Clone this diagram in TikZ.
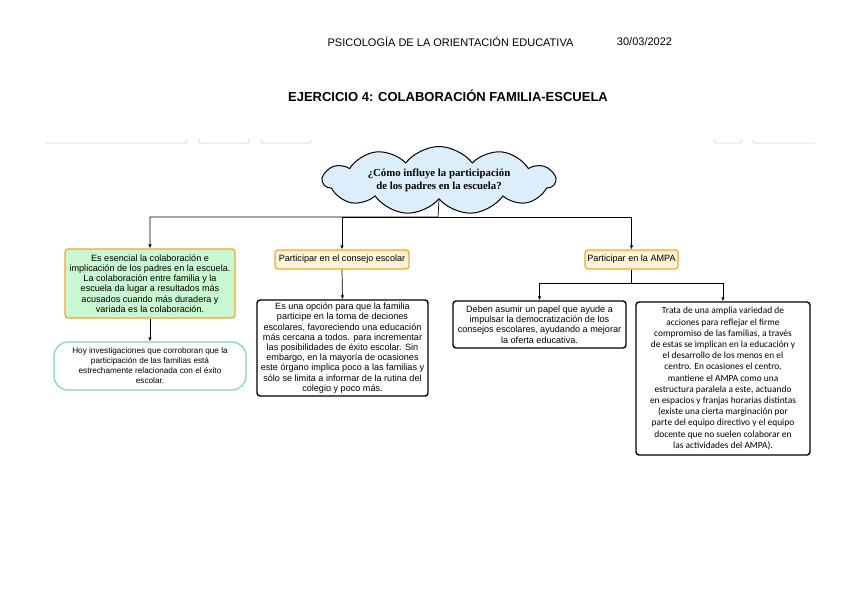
\documentclass[tikz,border=0pt]{standalone}
\usepackage{fontspec}
\setmainfont{Liberation Sans}
\newfontfamily\cloudfont{Liberation Serif}
\newfontfamily\calfont{Carlito}
\usetikzlibrary{arrows.meta,positioning,shapes.symbols,calc}
\tikzset {
    >={Latex[length=4pt,width=3.5pt]},
    conn/.style={draw, line width=0.7pt, ->},
}
\definecolor{cloudfill}{HTML}{DCEEF9}
\definecolor{mintfill}{HTML}{C8F7D2}
\definecolor{orangeline}{HTML}{F5A623}
\definecolor{creamfill}{HTML}{FFF4D9}
\definecolor{pillline}{HTML}{7ED9A0}
\definecolor{faintline}{HTML}{D4D4D4}
\providecommand{\boxtxt}{\fontsize{9.1}{10.2}\selectfont}

\begin{document}
\begin{tikzpicture}[
        x=1pt, y=-1pt,
        every node/.style={inner sep=2pt},
        qcloud/.style={cloud, draw, line width=1pt, fill=cloudfill,
            cloud puffs=11, cloud puff arc=105, aspect=3.6,
            minimum width=232pt, minimum height=68pt, inner sep=0pt},
        qtext/.style={align=center,
            font=\cloudfont\bfseries\fontsize{10.8}{13}\selectfont},
        gbox/.style={draw=orangeline, line width=1.2pt, rounded corners=3pt,
            fill=mintfill, minimum width=170pt, minimum height=69pt,
            align=center, font=\boxtxt},
        pbox/.style={draw=pillline, line width=1.2pt, rounded corners=14pt,
            fill=white, minimum width=192pt, minimum height=48pt,
            align=center, font=\fontsize{8.2}{10}\selectfont},
        obox/.style={draw=orangeline, line width=1.2pt, rounded corners=3pt,
            fill=creamfill, minimum height=19pt, align=center, font=\boxtxt},
        tbox/.style={draw, line width=1.4pt, rounded corners=3pt, fill=white,
            align=center, font=\boxtxt},
        faint/.style={draw=faintline, line width=0.8pt, rounded corners=2pt},
    ]
    \useasboundingbox (0,0) rectangle (848,600);

    \node[font=\fontsize{11}{13}\selectfont] at (450.5,42) (head) {PSICOLOGÍA DE LA ORIENTACIÓN EDUCATIVA};
    \node[font=\fontsize{11}{13}\selectfont] at (644.5,42) (date) {30/03/2022};
    \node[font=\bfseries\fontsize{13}{15}\selectfont] at (448,96) (title) {EJERCICIO 4: COLABORACIÓN FAMILIA-ESCUELA};

    % restos de cajas cortadas
    \draw[faint] (45,143) -- (187,143) -- (187,139);
    \draw[faint] (199,139) -- (199,143) -- (249,143) -- (249,139);
    \draw[faint] (261,139) -- (261,143) -- (311,143) -- (311,139);
    \draw[faint] (714,139) -- (714,143) -- (742,143) -- (742,139);
    \draw[faint] (753,139) -- (753,143) -- (815,143);

    \node[qcloud, label={[qtext]center:¿Cómo influye la participación\\de los padres en la escuela?}] at (439,180.5) (q) {};

    \node[gbox] at (150,283.5) (ess) {Es esencial la colaboración e\\implicación de los padres en la escuela.\\La colaboración entre familia y la\\escuela da lugar a resultados más\\acusados cuando más duradera y\\variada es la colaboración.};
    \node[pbox] at (150,366) (inv) {Hoy investigaciones que corroboran que la\\participación de las familias está\\estrechamente relacionada con el éxito\\escolar.};

    \node[obox, minimum width=134pt] at (342,259.5) (cons) {Participar en el consejo escolar};
    \node[tbox, minimum width=171pt, minimum height=96pt] at (342.5,348) (consT) {Es una opción para que la familia\\participe en la toma de deciones\\escolares, favoreciendo una educación\\más cercana a todos. para incrementar\\las posibilidades de éxito escolar. Sin\\embargo, en la mayoría de ocasiones\\este órgano implica poco a las familias y\\sólo se limita a informar de la rutina del\\colegio y poco más.};

    \node[obox, minimum width=93pt] at (631.5,259.5) (ampa) {Participar en la AMPA};
    \node[tbox, minimum width=173pt, minimum height=47pt] at (539.5,324.5) (ampaL) {Deben asumir un papel que ayude a\\impulsar la democratización de los\\consejos escolares, ayudando a mejorar\\la oferta educativa.};
    \node[tbox, minimum width=174pt, minimum height=153pt, font=\calfont\fontsize{9.4}{11.2}\selectfont] at (723,378.5) (ampaR) {Trata de una amplia variedad de\\acciones para reflejar el firme\\compromiso de las familias, a través\\de estas se implican en la educación y\\el desarrollo de los menos en el\\centro. En ocasiones el centro,\\mantiene el AMPA como una\\estructura paralela a este, actuando\\en espacios y franjas horarias distintas\\(existe una cierta marginación por\\parte del equipo directivo y el equipo\\docente que no suelen colaborar en\\las actividades del AMPA).};

    \coordinate (split) at (438,217);
    \coordinate (asplit) at (631.5,283);

    \draw[conn] (q.south) -- (split) -| (ess.north);
    \draw[conn] (split) -| (cons.north);
    \draw[conn] (split) -| (ampa.north);
    \draw[conn] (ess.south) -- (inv.north);
    \draw[conn] (cons.south) -- (consT.north);
    \draw[conn] (ampa.south) -- (asplit) -| (ampaL.north);
    \draw[conn] (asplit) -| (ampaR.north);

\end{tikzpicture}
\end{document}
